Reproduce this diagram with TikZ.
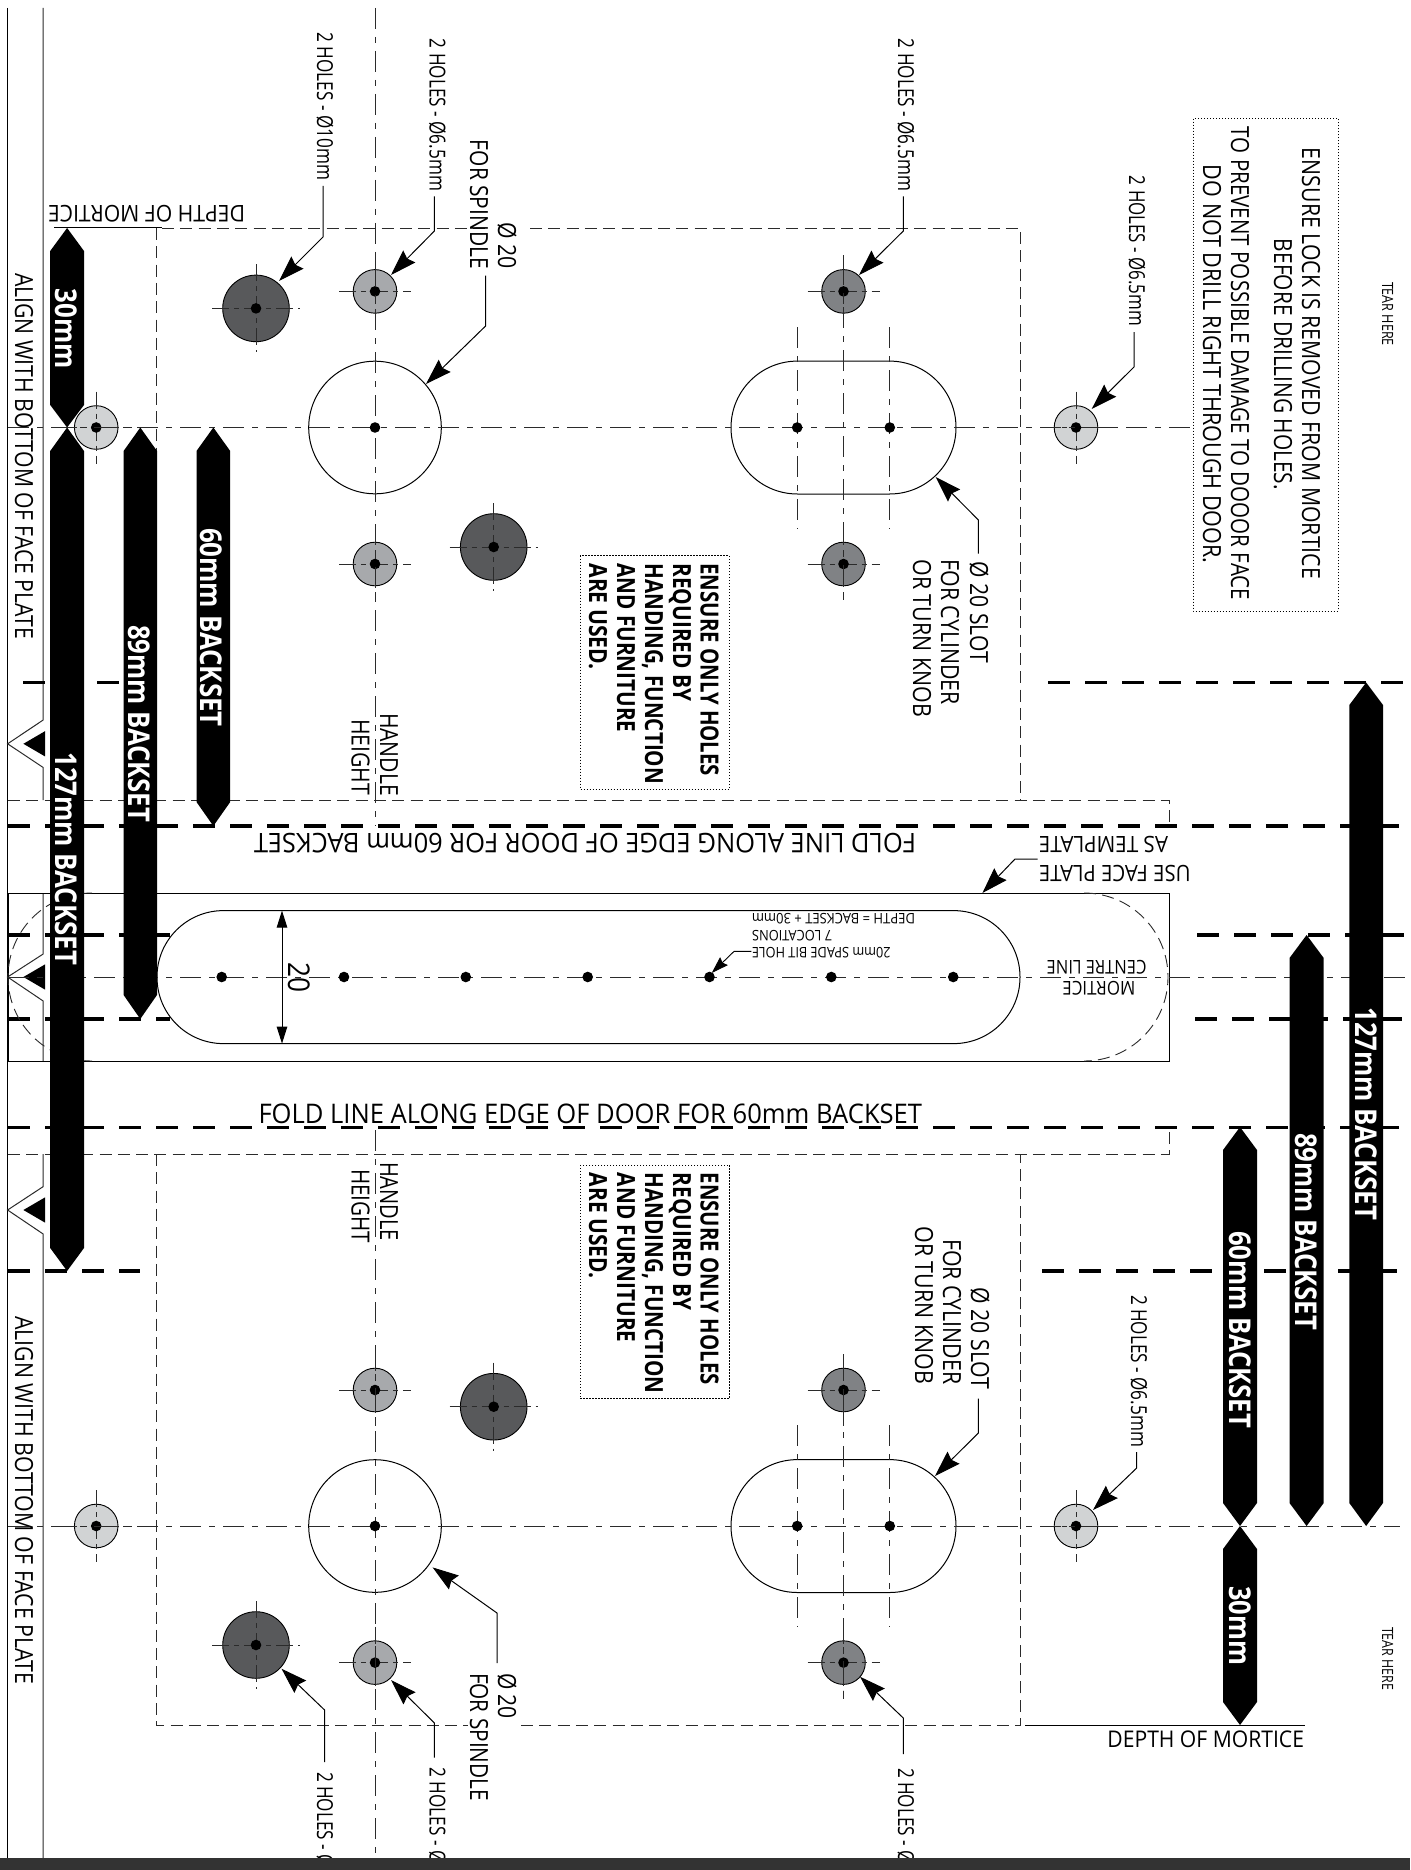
\documentclass[tikz,border=0pt]{standalone}
\usepackage{fontspec}
\usepackage{graphicx}
\setmainfont{Open Sans}
\usetikzlibrary{arrows.meta,calc}
\definecolor{linegray}{HTML}{2B2B2B}
\definecolor{holeA}{HTML}{A7A9AC}
\definecolor{holeB}{HTML}{58595B}
\definecolor{holeC}{HTML}{D1D3D4}
\definecolor{holeD}{HTML}{808285}
\definecolor{barDark}{HTML}{333333}
\tikzset{
  txt/.style={inner sep=0pt,outer sep=0pt,anchor=base west,text=black},
  cl/.style={draw=linegray,line width=1pt,dash pattern=on 21pt off 8pt on 6pt off 8pt},
  cross/.style={draw=linegray,line width=1pt,dash pattern=on 17pt off 5pt on 5pt off 5pt},
  lightdash/.style={draw=linegray,line width=0.9pt,dash pattern=on 12pt off 6.3pt},
  heavydash/.style={draw=black,line width=3.2pt,dash pattern=on 22pt off 15pt},
  outline/.style={draw=black,line width=1pt},
  lead/.style={draw=black,line width=1pt,-{Stealth[length=26pt,width=17pt,inset=3pt]}},
  dim/.style={draw=black,line width=1pt,{Stealth[length=17pt,width=10.5pt,inset=0pt]}-{Stealth[length=17pt,width=10.5pt,inset=0pt]}},
  notebox/.style={draw=black,line width=1pt,dash pattern=on 1.3pt off 1.7pt},
  bar/.style={fill=black,draw=none},
  holeshape/.style={circle,draw=black,line width=0.9pt,inner sep=0pt,outer sep=0pt},
  dotmark/.style={circle,fill=black,inner sep=0pt,minimum size=10.6pt}
}
% name x y rot length size text
\newcommand\tx[7]{\node[txt,rotate=#4] (#1) at (#2,#3) {\fontsize{#6pt}{#6pt}\selectfont\resizebox{#5pt}{\height}{#7}};}
\newcommand\wtx[7]{\node[txt,rotate=#4,text=white] (#1) at (#2,#3) {\fontsize{#6pt}{#6pt}\selectfont\bfseries\resizebox{#5pt}{\height}{#7}};}
\newcommand\btx[7]{\node[txt,rotate=#4] (#1) at (#2,#3) {\fontsize{#6pt}{#6pt}\selectfont\bfseries\resizebox{#5pt}{\height}{#7}};}
% name x y radius fill extent
\newcommand\hole[6]{%
  \node[holeshape,fill=#5,minimum size=#4pt*2] (#1) at (#2,#3) {};
  \draw[cross] ($(#1.center)+(-#6,0)$) -- ($(#1.center)+(#6,0)$);
  \draw[cross] ($(#1.center)+(0,-#6)$) -- ($(#1.center)+(0,#6)$);
  \node[dotmark] (#1dot) at (#1.center) {};}
\newcommand\leader[4]{%
  \coordinate (#1a) at (#2); \coordinate (#1b) at (#3); \coordinate (#1c) at (#4);
  \draw[lead] (#1a) -- (#1b) -- (#1c);}
% xleft xright ytip yshoulder : arrow up top, down bottom
\newcommand\blackbar[6]{\path[bar] (#1,#4) -- ({(#1+#2)/2},#3) -- (#2,#4) -- (#2,#5) -- ({(#1+#2)/2},#6) -- (#1,#5) -- cycle;}
\begin{document}
\begin{tikzpicture}[x=1pt,y=-1pt]
\useasboundingbox (0,0) rectangle (1410,1870);
\fill[white] (0,0) rectangle (1410,1870);

% sheet edges
\coordinate (e1) at (7.6,8); \coordinate (e2) at (7.6,1870);
\draw[draw=black,line width=1.1pt] (e1) -- (e2);
\draw[draw=linegray,line width=1pt] (43.2,8) -- (43.2,720) -- (7.6,743.8) -- (43.2,767.5) -- (43.2,800);
\draw[draw=linegray,line width=1pt] (43.2,893) -- (43.2,954) -- (7.6,977) -- (43.2,1001) -- (43.2,1061);
\draw[draw=linegray,line width=1pt] (43.2,1154) -- (43.2,1186.6) -- (7.6,1210) -- (43.2,1234) -- (43.2,1870);
\fill[black] (23.4,743.8) -- (45,731.2) -- (45,756.4) -- cycle;
\fill[black] (23.4,977) -- (45,964.4) -- (45,989.6) -- cycle;
\fill[black] (23.4,1210) -- (45,1197.4) -- (45,1222.6) -- cycle;

% heavy dashed fold lines
\draw[heavydash] (8,826) -- (1410,826);
\draw[heavydash] (8,1127.3) -- (1410,1127.3);
\draw[heavydash] (23,682.5) -- (158,682.5);
\draw[heavydash] (1048,682.5) -- (1410,682.5);
\draw[heavydash] (8,935) -- (170,935);
\draw[heavydash] (1197,935) -- (1410,935);
\draw[heavydash] (8,1019) -- (170,1019);
\draw[heavydash] (1195,1019) -- (1410,1019);
\draw[heavydash] (8,1271) -- (140,1271);
\draw[heavydash] (1042,1271) -- (1410,1271);

% light dashed template outlines
\draw[lightdash] (156,228) -- (156,800);
\draw[lightdash] (162,228) -- (488,228);
\draw[lightdash] (530,228) -- (1020,228) -- (1020,800);
\draw[lightdash] (8,800) -- (1169,800) -- (1169,826);
\draw[lightdash] (8,1154) -- (1169,1154) -- (1169,1127);
\draw[lightdash] (156,1154) -- (156,1725) -- (468,1725);
\draw[lightdash] (521,1725) -- (1020,1725) -- (1020,1154);
\draw[outline] (54,228) -- (162,228);
\draw[outline] (1025,1725) -- (1305,1725);

% face plate
\draw[outline] (1084,893) -- (8,893) -- (8,1061) -- (1084,1061);
\draw[outline] (1084,893) -- (1169,893) -- (1169,1061) -- (1084,1061);
\draw[lightdash] (92,893) arc[start angle=90,end angle=270,radius=84pt];
\draw[lightdash] (1084,893) arc[start angle=90,end angle=-90,radius=84pt];
\draw[outline,rounded corners=66.4pt] (157,910.6) rectangle (1020,1043.6);

% spindle circles and slots
\node[holeshape,draw=black,minimum size=132.6pt,line width=1pt] (spU) at (375,427.5) {};
\node[holeshape,draw=black,minimum size=132.6pt,line width=1pt] (spL) at (375,1526) {};
\draw[outline,rounded corners=66.4pt] (731,361.1) rectangle (956,494);
\draw[outline,rounded corners=66.4pt] (731,1459.6) rectangle (956,1592.5);

% holes
\hole{a1}{375}{291.4}{21.8}{holeA}{36}
\hole{a2}{375}{564}{21.8}{holeA}{36}
\hole{a3}{375}{1390}{21.8}{holeA}{36}
\hole{a4}{375}{1662.6}{21.8}{holeA}{36}
\hole{b1}{256}{308.4}{33.3}{holeB}{44}
\hole{b2}{493.7}{547}{33.3}{holeB}{44}
\hole{b3}{493.7}{1406.7}{33.3}{holeB}{44}
\hole{b4}{256}{1645}{33.3}{holeB}{44}
\hole{c1}{96.2}{427.5}{21.8}{holeC}{36}
\hole{c2}{96.2}{1526}{21.8}{holeC}{36}
\hole{c3}{1076}{427.5}{21.8}{holeC}{36}
\hole{c4}{1076}{1526}{21.8}{holeC}{36}
\hole{d1}{843.5}{291.4}{21.8}{holeD}{36}
\hole{d2}{843.5}{564}{21.8}{holeD}{36}
\hole{d3}{843.5}{1390}{21.8}{holeD}{36}
\hole{d4}{843.5}{1662.6}{21.8}{holeD}{36}

% centre lines
\draw[cl] (8,427.5) -- (1193,427.5);
\draw[cl] (8,1526) -- (1400,1526);
\draw[cl] (8,977) -- (1410,977);
\draw[cl] (375,8) -- (375,826);
\draw[cl] (375,1130) -- (375,1870);
\draw[cl] (843.5,264) -- (843.5,593);
\draw[cl] (843.5,1360) -- (843.5,1690);
\draw[cl] (797.2,327) -- (797.2,528.7);
\draw[cl] (889.8,327) -- (889.8,528.7);
\draw[cl] (797.2,1425) -- (797.2,1627);
\draw[cl] (889.8,1425) -- (889.8,1627);

% centre dots
\node[dotmark] (p1) at (375,427.5) {};
\node[dotmark] (p2) at (375,1526) {};
\node[dotmark] (p3) at (797.2,427.5) {};
\node[dotmark] (p4) at (889.8,427.5) {};
\node[dotmark] (p5) at (797.2,1526) {};
\node[dotmark] (p6) at (889.8,1526) {};
\node[dotmark] (m1) at (221.7,977) {};
\node[dotmark] (m2) at (344,977) {};
\node[dotmark] (m3) at (465.8,977) {};
\node[dotmark] (m4) at (587.7,977) {};
\node[dotmark] (m5) at (709.5,977) {};
\node[dotmark] (m6) at (831.3,977) {};
\node[dotmark] (m7) at (953.2,977) {};

% dimension 20
\coordinate (d20a) at (282,910.6); \coordinate (d20b) at (282,1043.6);
\draw[dim] (d20a) -- (d20b);
\tx{t20}{288}{962}{-90}{30}{30}{20}

% black bars
\blackbar{50.2}{84}{228}{251}{405}{427.5}
\blackbar{50.2}{84}{427.5}{451}{1248}{1271}
\blackbar{123.6}{157}{427.5}{451}{995}{1019}
\blackbar{196.5}{230.2}{427.5}{451}{802}{826}
\blackbar{1349.3}{1383}{682.5}{705}{1503}{1526}
\blackbar{1289.5}{1323.7}{935}{958}{1503}{1526}
\blackbar{1223}{1257}{1127}{1150}{1503}{1526}
\blackbar{1223}{1257}{1526}{1549}{1702}{1725}

% bar labels
\wtx{w1}{55}{288.6}{-90}{80}{30}{30mm}
\wtx{w2}{200}{528}{-90}{198.8}{30}{60mm BACKSET}
\wtx{w3}{128}{625}{-90}{197}{30}{89mm BACKSET}
\wtx{w4}{55}{752.5}{-90}{212.5}{30}{127mm BACKSET}
\wtx{w5}{1355}{1007.5}{-90}{212.5}{30}{127mm BACKSET}
\wtx{w6}{1295}{1133}{-90}{197}{30}{89mm BACKSET}
\wtx{w7}{1229}{1231}{-90}{197}{30}{60mm BACKSET}
\wtx{w8}{1229}{1586}{-90}{79}{30}{30mm}

% leaders
\leader{l1}{323,186}{323,237}{279,281}
\leader{l2}{434.4,196.5}{434.4,231}{391,275}
\leader{l3}{485.6,275.6}{485.6,326}{426,384}
\leader{l4}{903.3,196.5}{903.3,231}{859,275}
\leader{l5}{1134,332}{1134,367}{1091.7,409}
\leader{l6}{978.4,553.6}{978.4,520}{935.7,477}
\leader{l7}{1037.7,859}{1015,859}{982.4,893}
\leader{l9}{497,1663}{497,1613}{432.6,1567.4}
\leader{l10}{324.6,1762}{324.6,1710}{281.5,1668.7}
\leader{l11}{434.4,1757.5}{434.4,1723}{391,1680}
\leader{l12}{978.4,1398.7}{978.4,1433}{935,1476}
\leader{l13}{1136.7,1452}{1136.7,1468}{1093,1510}
\leader{l14}{903.3,1754}{903.3,1718}{860,1676.7}
\coordinate (l8a) at (751.3,951.4); \coordinate (l8b) at (734,951.4); \coordinate (l8c) at (711.7,973);
\draw[draw=black,line width=0.9pt,-{Stealth[length=17pt,width=11pt,inset=2pt]}] (l8a) -- (l8b) -- (l8c);

% notes boxes
\coordinate (n1a) at (1193,118.6); \coordinate (n1b) at (1338,611);
\draw[notebox] (n1a) rectangle (n1b);
\coordinate (n2a) at (580,555.5); \coordinate (n2b) at (729.3,789);
\draw[notebox] (n2a) rectangle (n2b);
\coordinate (n3a) at (580,1165); \coordinate (n3b) at (729.3,1398.7);
\draw[notebox] (n3a) rectangle (n3b);

\tx{t1}{1302}{148}{-90}{431}{25}{ENSURE LOCK IS REMOVED FROM MORTICE}
\tx{t2}{1274}{239}{-90}{251}{25}{BEFORE DRILLING HOLES.}
\tx{t3}{1231}{127}{-90}{473}{25}{TO PREVENT POSSIBLE DAMAGE TO DOOOR FACE}
\tx{t4}{1203}{165}{-90}{398.5}{25}{DO NOT DRILL RIGHT THROUGH DOOR.}
\tx{t5}{1382}{282}{-90}{64}{15.5}{TEAR HERE}
\tx{t6}{1382}{1627}{-90}{63}{15.5}{TEAR HERE}

\btx{e11}{700.5}{563.5}{-90}{212.5}{25}{ENSURE ONLY HOLES}
\btx{e12}{673}{563.5}{-90}{137.5}{25}{REQUIRED BY}
\btx{e13}{645}{563.5}{-90}{220.5}{25}{HANDING, FUNCTION}
\btx{e14}{617}{563.5}{-90}{169}{25}{AND FURNITURE}
\btx{e15}{589}{563.5}{-90}{106}{25}{ARE USED.}
\btx{e21}{700.5}{1172.8}{-90}{211.8}{25}{ENSURE ONLY HOLES}
\btx{e22}{673}{1172.8}{-90}{137.2}{25}{REQUIRED BY}
\btx{e23}{645}{1172.8}{-90}{220.7}{25}{HANDING, FUNCTION}
\btx{e24}{617}{1172.8}{-90}{169.6}{25}{AND FURNITURE}
\btx{e25}{589}{1172.8}{-90}{105.2}{25}{ARE USED.}

\tx{h1}{317}{32.4}{-90}{147.6}{22}{2 HOLES - Ø10mm}
\tx{h2}{429.5}{39}{-90}{152}{22}{2 HOLES - Ø6.5mm}
\tx{h3}{898}{39}{-90}{152}{22}{2 HOLES - Ø6.5mm}
\tx{h4}{1129}{176}{-90}{150}{22}{2 HOLES - Ø6.5mm}
\tx{h5}{1131}{1295}{-90}{152}{22}{2 HOLES - Ø6.5mm}
\tx{h6}{317}{1772}{-90}{147.6}{22}{2 HOLES - Ø10mm}
\tx{h7}{429.5}{1767.5}{-90}{152}{22}{2 HOLES - Ø6.5mm}
\tx{h8}{898}{1768}{-90}{152}{22}{2 HOLES - Ø6.5mm}

\tx{s1}{470}{140}{-90}{129}{25}{FOR SPINDLE}
\tx{s2}{498}{222.6}{-90}{46.4}{25}{Ø 20}
\tx{s3}{470}{1673}{-90}{128}{25}{FOR SPINDLE}
\tx{s4}{498}{1673}{-90}{46}{25}{Ø 20}

\tx{c11}{970}{561.5}{-90}{101.2}{25}{Ø 20 SLOT}
\tx{c12}{941}{559.5}{-90}{145.5}{25}{FOR CYLINDER}
\tx{c13}{913}{559.5}{-90}{157.5}{25}{OR TURN KNOB}
\tx{c21}{971}{1287.4}{-90}{102}{25}{Ø 20 SLOT}
\tx{c22}{943}{1239}{-90}{145.5}{25}{FOR CYLINDER}
\tx{c23}{915}{1226.5}{-90}{157.5}{25}{OR TURN KNOB}

\tx{k1}{380}{713}{-90}{83}{25}{HANDLE}
\tx{k2}{351.6}{719}{-90}{76}{25}{HEIGHT}
\tx{k3}{380}{1162}{-90}{79}{25}{HANDLE}
\tx{k4}{351.6}{1169}{-90}{74}{25}{HEIGHT}

\tx{a11}{15}{273}{-90}{366}{25}{ALIGN WITH BOTTOM OF FACE PLATE}
\tx{a12}{15}{1316}{-90}{368}{25}{ALIGN WITH BOTTOM OF FACE PLATE}

\tx{f1}{916}{833.5}{180}{662}{27}{FOLD LINE ALONG EDGE OF DOOR FOR 60mm BACKSET}
\tx{f2}{258.5}{1123}{0}{663.5}{27}{FOLD LINE ALONG EDGE OF DOOR FOR 60mm BACKSET}
\tx{m11}{245}{205.6}{180}{197}{23}{DEPTH OF MORTICE}
\tx{m12}{1107.4}{1747}{0}{196.6}{23}{DEPTH OF MORTICE}
\tx{u1}{1190.6}{865}{180}{151.6}{22.5}{USE FACE PLATE}
\tx{u2}{1168}{836.7}{180}{129}{22.5}{AS TEMPLATE}
\tx{b11}{915}{913.4}{180}{163}{14.5}{DEPTH = BACKSET + 30mm}
\tx{b12}{832}{930.4}{180}{80}{14.5}{7 LOCATIONS}
\tx{b13}{890.7}{947.4}{180}{138.7}{14.5}{20mm SPADE BIT HOLE}
\tx{q1}{1146.5}{960}{180}{99.8}{19}{CENTRE LINE}
\tx{q2}{1135.3}{981.8}{180}{72.8}{19}{MORTICE}

% bottom strip
\fill[barDark] (0,1858) rectangle (1410,1870);
\end{tikzpicture}
\end{document}
